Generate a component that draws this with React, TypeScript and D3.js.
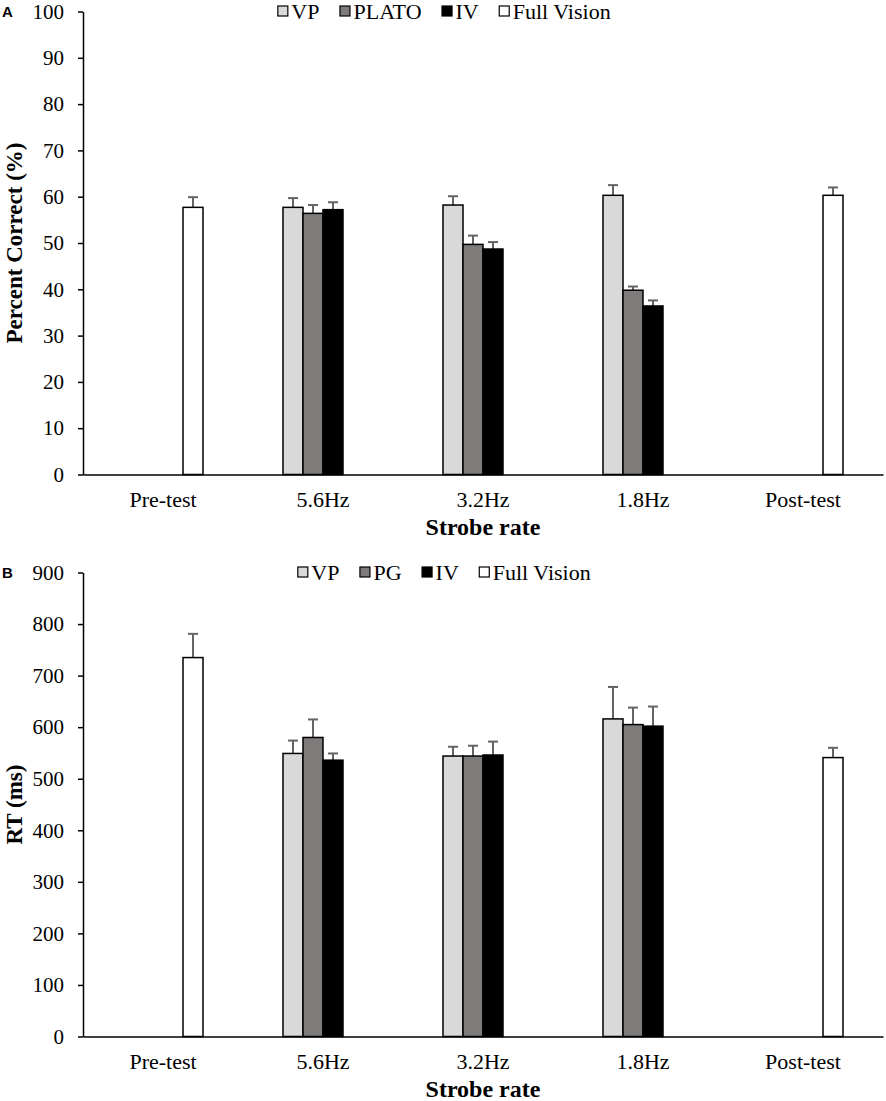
import { useEffect, useRef } from "react"
import * as d3 from "d3"

const categories = ["Pre-test", "5.6Hz", "3.2Hz", "1.8Hz", "Post-test"]
const seriesKeys = ["s1", "s2", "s3", "s4"]
const seriesColors = ["#d9d9d9", "#7f7b7b", "#000000", "#ffffff"]

// Panel A: percent correct
const namesA = ["VP", "PLATO", "IV", "Full Vision"]
const vpA = [null, 57.7, 58.2, 60.3, null]
const platoA = [null, 56.4, 49.7, 39.8, null]
const ivA = [null, 57.2, 48.7, 36.4, null]
const fullA = [57.7, null, null, null, 60.3]
const vpErrA = [0, 2.0, 1.9, 2.2, 0]
const platoErrA = [0, 1.8, 1.9, 0.8, 0]
const ivErrA = [0, 1.6, 1.5, 1.2, 0]
const fullErrA = [2.2, 0, 0, 0, 1.7]
const ticksA = [0, 10, 20, 30, 40, 50, 60, 70, 80, 90, 100]

// Panel B: reaction time
const namesB = ["VP", "PG", "IV", "Full Vision"]
const vpB = [null, 549, 544, 616, null]
const pgB = [null, 580, 544, 605, null]
const ivB = [null, 536, 546, 602, null]
const fullB = [735, null, null, null, 541]
const vpErrB = [0, 25, 18, 62, 0]
const pgErrB = [0, 35, 20, 33, 0]
const ivErrB = [0, 13, 26, 38, 0]
const fullErrB = [46, 0, 0, 0, 19]
const ticksB = [0, 100, 200, 300, 400, 500, 600, 700, 800, 900]

const serif = "'Liberation Serif', 'Times New Roman', serif"

type Panel = {
  letter: string
  names: string[]
  values: (number | null)[][]
  errors: number[][]
  ticks: number[]
  yTitle: string
  top: number
  bottom: number
}

const panels: Panel[] = [
  {
    letter: "A",
    names: namesA,
    values: [vpA, platoA, ivA, fullA],
    errors: [vpErrA, platoErrA, ivErrA, fullErrA],
    ticks: ticksA,
    yTitle: "Percent Correct (%)",
    top: 11.5,
    bottom: 474.5,
  },
  {
    letter: "B",
    names: namesB,
    values: [vpB, pgB, ivB, fullB],
    errors: [vpErrB, pgErrB, ivErrB, fullErrB],
    ticks: ticksB,
    yTitle: "RT (ms)",
    top: 572.5,
    bottom: 1036.5,
  },
]

export default function App() {
  const svgRef = useRef<SVGSVGElement>(null)

  useEffect(() => {
    if (!svgRef.current) return
    const width = 886
    const height = 1101
    const left = 83
    const right = 883

    d3.select(svgRef.current).selectAll("*").remove()
    const svg = d3.select(svgRef.current).attr("width", width).attr("height", height)

    svg.append("rect").attr("width", width).attr("height", height).attr("fill", "#fff")

    const x = d3.scaleBand().domain(categories).range([left, right])
    const xSub = d3
      .scaleBand()
      .domain(seriesKeys)
      .range([x.bandwidth() / 4, (x.bandwidth() * 3) / 4])

    panels.forEach((p) => {
      const g = svg.append("g")
      const max = p.ticks[p.ticks.length - 1]
      const y = d3.scaleLinear().domain([0, max]).range([p.bottom, p.top])

      // Y axis
      const yAxis = g
        .append("g")
        .attr("transform", `translate(${left},0)`)
        .call(d3.axisLeft(y).tickValues(p.ticks).tickSize(5).tickSizeOuter(0).tickPadding(14))
      yAxis.attr("font-family", serif).attr("font-size", 21)
      yAxis.select(".domain").attr("stroke", "#000").attr("stroke-width", 1.5)
      yAxis.selectAll(".tick line").attr("stroke", "#000").attr("stroke-width", 1.5)
      yAxis.selectAll(".tick text").attr("fill", "#000")

      // Error bars (upper only)
      p.values.forEach((vals, si) => {
        const key = seriesKeys[si]
        vals.forEach((v, ci) => {
          if (v == null) return
          const e = p.errors[si][ci]
          const cx = (x(categories[ci]) as number) + (xSub(key) as number) + xSub.bandwidth() / 2
          g.append("line")
            .attr("x1", cx)
            .attr("x2", cx)
            .attr("y1", y(v))
            .attr("y2", y(v + e))
            .attr("stroke", "#646464")
            .attr("stroke-width", 2)
          g.append("line")
            .attr("x1", cx - 5)
            .attr("x2", cx + 5)
            .attr("y1", y(v + e))
            .attr("y2", y(v + e))
            .attr("stroke", "#646464")
            .attr("stroke-width", 2)
        })
      })

      // Bars
      p.values.forEach((vals, si) => {
        const key = seriesKeys[si]
        g.append("g")
          .selectAll("rect")
          .data(vals.map((v, i) => ({ v, c: categories[i] })).filter((d) => d.v != null))
          .join("rect")
          .attr("x", (d) => (x(d.c) as number) + (xSub(key) as number))
          .attr("y", (d) => y(d.v as number))
          .attr("width", xSub.bandwidth())
          .attr("height", (d) => p.bottom - y(d.v as number))
          .attr("fill", seriesColors[si])
          .attr("stroke", "#000")
          .attr("stroke-width", 1.5)
      })

      // X axis
      const xAxis = g
        .append("g")
        .attr("transform", `translate(0,${p.bottom})`)
        .call(d3.axisBottom(x).tickSize(0).tickPadding(17))
      xAxis.attr("font-family", serif).attr("font-size", 22)
      xAxis.select(".domain").attr("stroke", "#000").attr("stroke-width", 1.5)
      xAxis.selectAll(".tick text").attr("fill", "#000")

      // Axis titles
      g.append("text")
        .attr("x", (left + right) / 2)
        .attr("y", p.bottom + 60.5)
        .attr("text-anchor", "middle")
        .attr("font-family", serif)
        .attr("font-weight", "bold")
        .attr("font-size", 24)
        .text("Strobe rate")

      g.append("text")
        .attr("transform", `translate(22,${(p.top + p.bottom) / 2}) rotate(-90)`)
        .attr("text-anchor", "middle")
        .attr("font-family", serif)
        .attr("font-weight", "bold")
        .attr("font-size", 23)
        .text(p.yTitle)

      // Panel letter
      g.append("text")
        .attr("x", 2)
        .attr("y", p.top + 5.5)
        .attr("font-family", "'Liberation Sans', Arial, sans-serif")
        .attr("font-weight", "bold")
        .attr("font-size", 15)
        .text(p.letter)

      // Legend
      const legend = g.append("g")
      const gap = 20
      let cursor = 0
      p.names.forEach((name, i) => {
        const item = legend.append("g").attr("transform", `translate(${cursor},0)`)
        item
          .append("rect")
          .attr("x", 0.5)
          .attr("y", -5.5)
          .attr("width", 10)
          .attr("height", 10)
          .attr("fill", seriesColors[i])
          .attr("stroke", "#000")
          .attr("stroke-width", 1.2)
        const t = item
          .append("text")
          .attr("x", 14)
          .attr("y", 7)
          .attr("font-family", serif)
          .attr("font-size", 22)
          .text(name)
        const w = (t.node() as SVGTextElement).getComputedTextLength()
        cursor += 14 + w + gap
      })
      const total = cursor - gap
      legend.attr("transform", `translate(${444 - total / 2},${p.top})`)
    })
  }, [])

  return (
    <svg
      ref={svgRef}
      style={{ position: "absolute", left: 0, top: 0, display: "block" }}
    />
  )
}
